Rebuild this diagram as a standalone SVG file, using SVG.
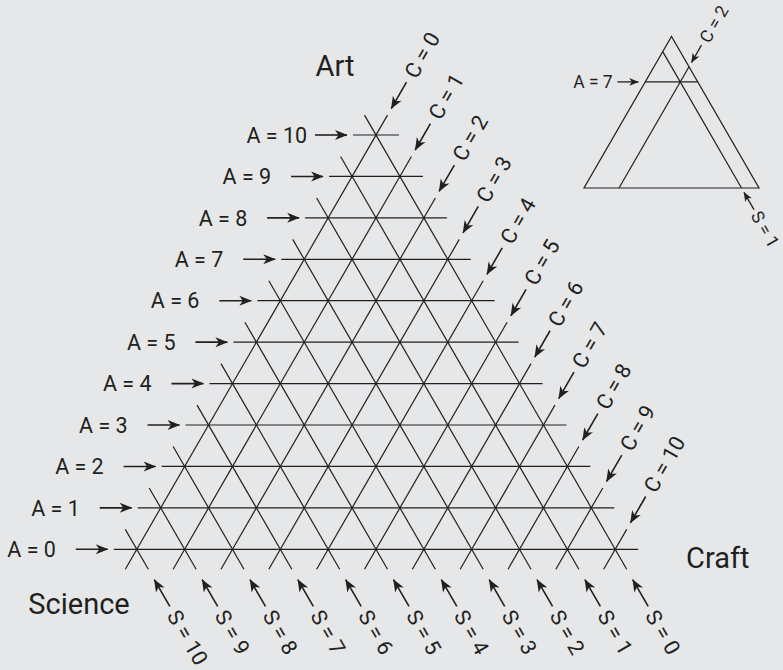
<svg xmlns="http://www.w3.org/2000/svg" width="783" height="670" viewBox="0 0 783 670">
<style>
.bg{fill:#e6e7e8}
.g line{stroke:#231f20;stroke-width:1.2;fill:none}
.arr{stroke:#231f20;stroke-width:1.6;fill:none;marker-end:url(#ah)}
.arrs{stroke:#231f20;stroke-width:1.3;fill:none;marker-end:url(#ahs)}
.lb{font-family:Roboto,"Liberation Sans",sans-serif;font-size:21.5px;fill:#231f20}
.ls{font-family:Roboto,"Liberation Sans",sans-serif;font-size:17.5px;fill:#231f20}
.big{font-family:Roboto,"Liberation Sans",sans-serif;font-size:29px;fill:#231f20}
.tri{stroke:#231f20;stroke-width:1.2;fill:none}
</style>
<defs>
<marker id="ah" markerUnits="userSpaceOnUse" markerWidth="16" markerHeight="14" viewBox="-14 -7 16 14" refX="0" refY="0" orient="auto"><path d="M0.5,0 L-12,-5 L-8.5,0 L-12,5 Z" fill="#231f20"/></marker>
<marker id="ahs" markerUnits="userSpaceOnUse" markerWidth="12" markerHeight="10" viewBox="-10 -5 12 10" refX="0" refY="0" orient="auto"><path d="M0.5,0 L-9,-3.8 L-6.5,0 L-9,3.8 Z" fill="#231f20"/></marker>
</defs>
<rect class="bg" x="0" y="0" width="783" height="670"/>

<g id="connectors">
<g id="grid" class="g">
<line x1="113.8" y1="549.3" x2="638.2" y2="549.3"/>
<line x1="137.72" y1="507.87" x2="614.28" y2="507.87"/>
<line x1="161.64" y1="466.44" x2="590.36" y2="466.44"/>
<line x1="185.56" y1="425.01" x2="566.44" y2="425.01"/>
<line x1="209.48" y1="383.58" x2="542.52" y2="383.58"/>
<line x1="233.4" y1="342.15" x2="518.6" y2="342.15"/>
<line x1="257.32" y1="300.72" x2="494.68" y2="300.72"/>
<line x1="281.24" y1="259.29" x2="470.76" y2="259.29"/>
<line x1="305.16" y1="217.86" x2="446.84" y2="217.86"/>
<line x1="329.08" y1="176.43" x2="422.92" y2="176.43"/>
<line x1="353" y1="135" x2="399" y2="135"/>

<line x1="387.5" y1="115.08" x2="125.3" y2="569.22"/>
<line x1="411.42" y1="156.51" x2="173.14" y2="569.22"/>
<line x1="435.34" y1="197.94" x2="220.98" y2="569.22"/>
<line x1="459.26" y1="239.37" x2="268.82" y2="569.22"/>
<line x1="483.18" y1="280.8" x2="316.66" y2="569.22"/>
<line x1="507.1" y1="322.23" x2="364.5" y2="569.22"/>
<line x1="531.02" y1="363.66" x2="412.34" y2="569.22"/>
<line x1="554.94" y1="405.09" x2="460.18" y2="569.22"/>
<line x1="578.86" y1="446.52" x2="508.02" y2="569.22"/>
<line x1="602.78" y1="487.95" x2="555.86" y2="569.22"/>
<line x1="626.7" y1="529.38" x2="603.7" y2="569.22"/>

<line x1="364.5" y1="115.08" x2="626.7" y2="569.22"/>
<line x1="340.58" y1="156.51" x2="578.86" y2="569.22"/>
<line x1="316.66" y1="197.94" x2="531.02" y2="569.22"/>
<line x1="292.74" y1="239.37" x2="483.18" y2="569.22"/>
<line x1="268.82" y1="280.8" x2="435.34" y2="569.22"/>
<line x1="244.9" y1="322.23" x2="387.5" y2="569.22"/>
<line x1="220.98" y1="363.66" x2="339.66" y2="569.22"/>
<line x1="197.06" y1="405.09" x2="291.82" y2="569.22"/>
<line x1="173.14" y1="446.52" x2="243.98" y2="569.22"/>
<line x1="149.22" y1="487.95" x2="196.14" y2="569.22"/>
<line x1="125.3" y1="529.38" x2="148.3" y2="569.22"/>
</g>

<g id="a-arrows">
<line class="arr" x1="75.8" y1="549.3" x2="107.8" y2="549.3"/>
<line class="arr" x1="99.72" y1="507.87" x2="131.72" y2="507.87"/>
<line class="arr" x1="123.64" y1="466.44" x2="155.64" y2="466.44"/>
<line class="arr" x1="147.56" y1="425.01" x2="179.56" y2="425.01"/>
<line class="arr" x1="171.48" y1="383.58" x2="203.48" y2="383.58"/>
<line class="arr" x1="195.4" y1="342.15" x2="227.4" y2="342.15"/>
<line class="arr" x1="219.32" y1="300.72" x2="251.32" y2="300.72"/>
<line class="arr" x1="243.24" y1="259.29" x2="275.24" y2="259.29"/>
<line class="arr" x1="267.16" y1="217.86" x2="299.16" y2="217.86"/>
<line class="arr" x1="291.08" y1="176.43" x2="323.08" y2="176.43"/>
<line class="arr" x1="315" y1="135" x2="347" y2="135"/>
</g>
<g id="c-arrows">
<line class="arr" x1="406.5" y1="82.18" x2="391.25" y2="108.58"/>
<line class="arr" x1="430.42" y1="123.61" x2="415.17" y2="150.01"/>
<line class="arr" x1="454.34" y1="165.04" x2="439.09" y2="191.44"/>
<line class="arr" x1="478.26" y1="206.47" x2="463.01" y2="232.87"/>
<line class="arr" x1="502.18" y1="247.9" x2="486.93" y2="274.3"/>
<line class="arr" x1="526.1" y1="289.33" x2="510.85" y2="315.73"/>
<line class="arr" x1="550.02" y1="330.76" x2="534.77" y2="357.16"/>
<line class="arr" x1="573.94" y1="372.19" x2="558.69" y2="398.59"/>
<line class="arr" x1="597.86" y1="413.62" x2="582.61" y2="440.02"/>
<line class="arr" x1="621.78" y1="455.05" x2="606.53" y2="481.45"/>
<line class="arr" x1="645.7" y1="496.48" x2="630.45" y2="522.88"/>
</g>
<g id="s-arrows">
<line class="arr" x1="648.2" y1="606.42" x2="632.7" y2="579.62"/>
<line class="arr" x1="600.36" y1="606.42" x2="584.86" y2="579.62"/>
<line class="arr" x1="552.52" y1="606.42" x2="537.02" y2="579.62"/>
<line class="arr" x1="504.68" y1="606.42" x2="489.18" y2="579.62"/>
<line class="arr" x1="456.84" y1="606.42" x2="441.34" y2="579.62"/>
<line class="arr" x1="409" y1="606.42" x2="393.5" y2="579.62"/>
<line class="arr" x1="361.16" y1="606.42" x2="345.66" y2="579.62"/>
<line class="arr" x1="313.32" y1="606.42" x2="297.82" y2="579.62"/>
<line class="arr" x1="265.48" y1="606.42" x2="249.98" y2="579.62"/>
<line class="arr" x1="217.64" y1="606.42" x2="202.14" y2="579.62"/>
<line class="arr" x1="169.8" y1="606.42" x2="154.3" y2="579.62"/>
</g>
</g>

<g id="a-labels" class="lb">
<text x="7.3" y="557">A = 0</text>
<text x="31.22" y="515.57">A = 1</text>
<text x="55.14" y="474.14">A = 2</text>
<text x="79.06" y="432.71">A = 3</text>
<text x="102.98" y="391.28">A = 4</text>
<text x="126.9" y="349.85">A = 5</text>
<text x="150.82" y="308.42">A = 6</text>
<text x="174.74" y="266.99">A = 7</text>
<text x="198.66" y="225.56">A = 8</text>
<text x="222.58" y="184.13">A = 9</text>
<text x="246.5" y="142.7">A = 10</text>
</g>
<g id="c-labels" class="lb">
<text transform="translate(416.6,79.91) rotate(-60)">C = 0</text>
<text transform="translate(440.52,121.34) rotate(-60)">C = 1</text>
<text transform="translate(464.44,162.77) rotate(-60)">C = 2</text>
<text transform="translate(488.36,204.2) rotate(-60)">C = 3</text>
<text transform="translate(512.28,245.63) rotate(-60)">C = 4</text>
<text transform="translate(536.2,287.06) rotate(-60)">C = 5</text>
<text transform="translate(560.12,328.49) rotate(-60)">C = 6</text>
<text transform="translate(584.04,369.92) rotate(-60)">C = 7</text>
<text transform="translate(607.96,411.35) rotate(-60)">C = 8</text>
<text transform="translate(631.88,452.78) rotate(-60)">C = 9</text>
<text transform="translate(655.8,494.21) rotate(-60)">C = 10</text>
</g>
<g id="s-labels" class="lb">
<text transform="translate(644.6,615.42) rotate(60)">S = 0</text>
<text transform="translate(596.76,615.42) rotate(60)">S = 1</text>
<text transform="translate(548.92,615.42) rotate(60)">S = 2</text>
<text transform="translate(501.08,615.42) rotate(60)">S = 3</text>
<text transform="translate(453.24,615.42) rotate(60)">S = 4</text>
<text transform="translate(405.4,615.42) rotate(60)">S = 5</text>
<text transform="translate(357.56,615.42) rotate(60)">S = 6</text>
<text transform="translate(309.72,615.42) rotate(60)">S = 7</text>
<text transform="translate(261.88,615.42) rotate(60)">S = 8</text>
<text transform="translate(214.04,615.42) rotate(60)">S = 9</text>
<text transform="translate(166.2,615.42) rotate(60)">S = 10</text>
</g>

<g id="vertex-art"><text class="big" x="315.5" y="76">Art</text></g>
<g id="vertex-science"><text class="big" x="28.3" y="614">Science</text></g>
<g id="vertex-craft"><text class="big" x="686" y="568.3">Craft</text></g>

<g id="inset">
<path class="tri" d="M584,188 L759,188 L671.5,36.45 Z"/>
<line class="tri" x1="662.75" y1="51.6" x2="741.5" y2="188"/>
<line class="tri" x1="619" y1="188" x2="689" y2="66.8"/>
<line class="tri" x1="645.25" y1="81.9" x2="697.75" y2="81.9"/>
<line class="arrs" x1="617.3" y1="81.9" x2="638.3" y2="81.9"/>
<line class="arrs" x1="701.5" y1="45.15" x2="691.5" y2="62.47"/>
<line class="arrs" x1="754" y1="209.65" x2="744" y2="192.33"/>
<text class="ls" x="612.7" y="88.2" text-anchor="end">A = 7</text>
<text class="ls" transform="translate(709.3,44.2) rotate(-60)">C = 2</text>
<text class="ls" transform="translate(750.2,215.6) rotate(60)">S = 1</text>
</g>
</svg>
